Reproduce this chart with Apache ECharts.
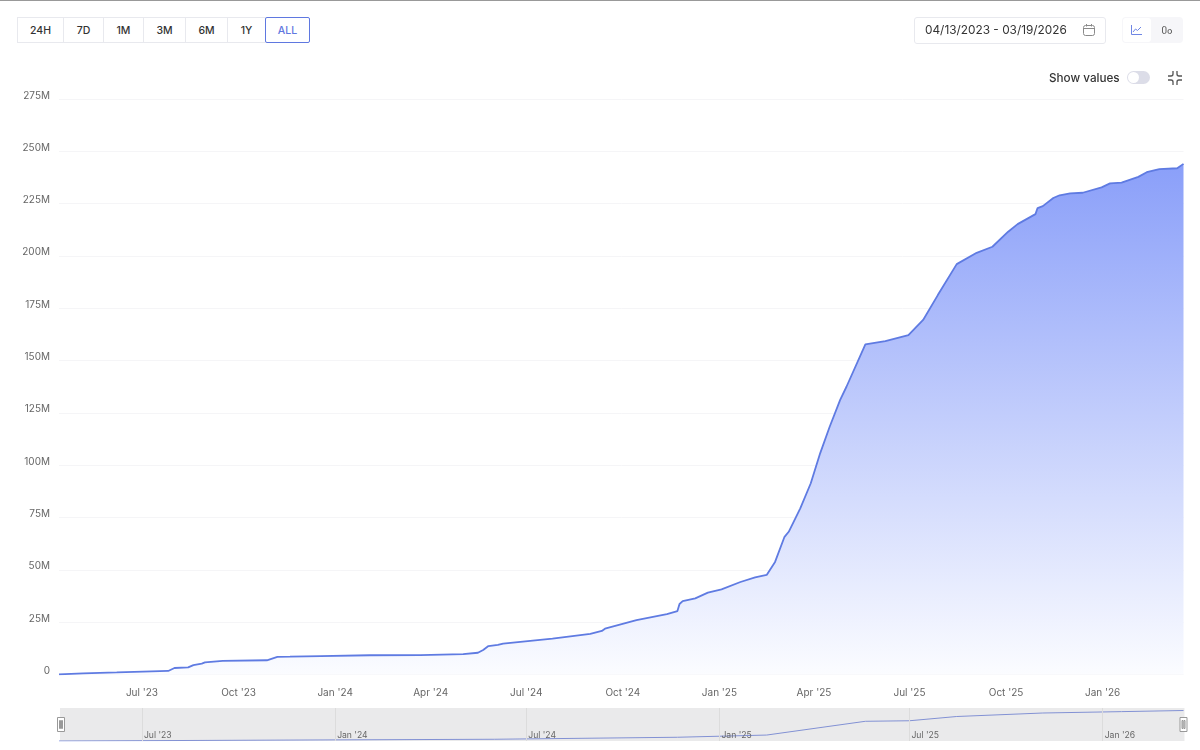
<!DOCTYPE html>
<html lang="en">
<head>
    <meta charset="UTF-8">
    <title>Cumulative chart</title>
    <script src="https://cdn.jsdelivr.net/npm/echarts@6/dist/echarts.min.js"></script>
    <style>
        body { margin: 0; background: #fff; font-family: Inter, sans-serif; color: #333; }
        #page { position: relative; width: 1200px; height: 750px; overflow: hidden; }
        #chart { position: absolute; left: 0; top: 0; width: 1200px; height: 750px; }
        .topline { position: absolute; left: 0; top: 0; width: 1200px; height: 1px; background: #999; }
        .range { position: absolute; left: 17px; top: 17px; height: 26px; display: flex; font-size: 10.5px; font-weight: 500; }
        .range div { box-sizing: border-box; height: 26px; line-height: 25px; text-align: center; border: 1px solid #e8e9ee; margin-left: -1px; background: #fff; }
        .range .on { color: #5f78e0; border-color: #5f78e0; border-radius: 2px; position: relative; }
        .dates { position: absolute; left: 914px; top: 17px; width: 192px; height: 27px; box-sizing: border-box; border: 1px solid #e8e9ee; border-radius: 3px; font-size: 11.85px; line-height: 25px; padding-left: 10px; }
        .dates svg { position: absolute; left: 168px; top: 6px; }
        .modes { position: absolute; left: 1122px; top: 17px; width: 61px; height: 26px; background: #f6f6f9; border-radius: 4px; }
        .modes i { position: absolute; left: 1px; top: 1px; width: 28px; height: 24px; background: #fff; border-radius: 3px; }
        .modes svg { position: absolute; }
        .show { position: absolute; left: 1049px; top: 71px; font-size: 11.7px; font-weight: 500; line-height: 15px; }
        .switch { position: absolute; left: 1127px; top: 71px; width: 23px; height: 13px; border-radius: 7px; background: #dcdde8; }
        .switch i { position: absolute; left: 1px; top: 1px; width: 11px; height: 11px; border-radius: 50%; background: #fff; }
        .shrink { position: absolute; left: 1168px; top: 71px; }
    </style>
</head>
<body>
<div id="page">
    <div id="chart"></div>
    <div class="topline"></div>
    <div class="range">
        <div style="width:47px;margin-left:0">24H</div>
        <div style="width:41px">7D</div>
        <div style="width:41px">1M</div>
        <div style="width:43px">3M</div>
        <div style="width:43px">6M</div>
        <div style="width:39px">1Y</div>
        <div class="on" style="width:45px">ALL</div>
    </div>
    <div class="dates">04/13/2023 - 03/19/2026
        <svg width="12" height="12" viewBox="0 0 12 12" fill="none" stroke="#8a8a8a"><rect x=".5" y="1.5" width="11" height="10" rx="2"/><path d="M.5 4.5h11M3.5 0v2.5M8.5 0v2.5"/></svg>
    </div>
    <div class="modes">
        <i></i>
        <svg style="left:9px;top:8px" width="11" height="10" viewBox="0 0 11 10" fill="none" stroke="#6f86e4"><path d="M.5 0v9.5H11M2 7l2.500-3 2 1.500L10 2"/></svg>
        <svg style="left:40px;top:9px" width="10" height="8" viewBox="0 0 10 8" fill="none" stroke="#666"><rect x=".5" y=".5" width="3.500" height="7" rx="1.500"/><rect x="6" y="3.500" width="3.500" height="4" rx="1.500"/></svg>
    </div>
    <div class="show">Show values</div>
    <div class="switch"><i></i></div>
    <svg class="shrink" width="14" height="14" viewBox="0 0 14 14" fill="none" stroke="#555" stroke-width="1.300"><path d="M5 0v3a2 2 0 0 1-2 2H0M9 0v3a2 2 0 0 0 2 2h3M5 14v-3a2 2 0 0 0-2-2H0M9 14v-3a2 2 0 0 1 2-2h3"/></svg>
</div>
<script>
    // cumulative total, millions
    const dates = ['2023-04-13', '2023-05-06', '2023-06-07', '2023-07-02', '2023-07-26', '2023-08-01', '2023-08-14', '2023-08-19', '2023-08-27', '2023-08-30',
        '2023-09-16', '2023-10-28', '2023-11-07', '2023-11-19', '2023-12-18', '2024-02-03', '2024-03-22', '2024-05-02', '2024-05-16', '2024-05-21',
        '2024-05-26', '2024-06-04', '2024-06-09', '2024-07-26', '2024-08-31', '2024-09-11', '2024-09-14', '2024-10-14', '2024-11-12', '2024-11-22',
        '2024-11-24', '2024-11-27', '2024-12-09', '2024-12-21', '2025-01-03', '2025-01-21', '2025-02-04', '2025-02-15', '2025-02-23', '2025-03-04',
        '2025-03-08', '2025-03-19', '2025-03-29', '2025-04-07', '2025-04-16', '2025-04-26', '2025-05-02', '2025-05-20', '2025-06-08', '2025-06-30',
        '2025-07-14', '2025-07-28', '2025-08-15', '2025-09-03', '2025-09-18', '2025-10-03', '2025-10-12', '2025-10-29', '2025-10-31', '2025-11-05',
        '2025-11-15', '2025-11-21', '2025-12-01', '2025-12-13', '2025-12-31', '2026-01-08', '2026-01-19', '2026-02-04', '2026-02-12', '2026-02-24',
        '2026-03-13', '2026-03-19'];
    const values = [0.1, 0.5, 1.0, 1.4, 1.7, 3.1, 3.4, 4.5, 5.2, 5.8,
        6.5, 6.8, 8.4, 8.5, 8.8, 9.2, 9.3, 9.7, 10.4, 11.7,
        13.6, 14.2, 14.8, 17.1, 19.4, 20.8, 21.9, 26.0, 28.8, 30.3,
        33.7, 35.1, 36.4, 39.1, 40.7, 44.2, 46.4, 47.6, 53.8, 65.8,
        68.2, 79.4, 91.4, 105.8, 118.4, 131.2, 137.5, 157.7, 159.3, 162.2,
        169.4, 181.3, 196.1, 201.5, 204.4, 211.6, 215.2, 220.0, 222.9, 223.8,
        227.7, 229.0, 229.9, 230.2, 232.8, 234.7, 235.0, 237.8, 240.0, 241.5,
        241.9, 244.0];

    // the coarser line inside the slider
    const overviewDates = ['2023-04-13', '2024-01-01', '2024-06-01', '2024-11-22', '2025-02-15', '2025-05-20', '2025-07-01', '2025-08-15', '2025-11-05', '2026-01-19', '2026-03-19'];
    const overviewValues = [0, 9, 14, 30, 47.6, 157.7, 162, 196, 224, 235, 244];

    const tickDates = ['2023-07-01', '2023-10-01', '2024-01-01', '2024-04-01', '2024-07-01', '2024-10-01', '2025-01-01', '2025-04-01', '2025-07-01', '2025-10-01', '2026-01-01'];
    const tickLabels = ["Jul '23", "Oct '23", "Jan '24", "Apr '24", "Jul '24", "Oct '24", "Jan '25", "Apr '25", "Jul '25", "Oct '25", "Jan '26"];
    const sliderDates = ['2023-07-01', '2024-01-01', '2024-07-01', '2025-01-01', '2025-07-01', '2026-01-01'];

    const toTime = d => +echarts.time.parse(d);
    const labelOf = {};
    tickDates.forEach((d, i) => { labelOf[toTime(d)] = tickLabels[i]; });
    const tickValues = tickDates.map(toTime);
    const sliderValues = sliderDates.map(toTime);

    const myChart = echarts.init(document.getElementById('chart'));
    const font = 'Inter, sans-serif';

    // time axis breaks on customValues, so the x axes are plain value axes holding timestamps
    myChart.setOption({
        animation: false,
        textStyle: { fontFamily: font },
        grid: [
            { left: 59, right: 16.5, top: 99, height: 575.5 },
            { left: 59, right: 16.5, top: 708, height: 33 }
        ],
        xAxis: [
            {
                type: 'value',
                gridIndex: 0,
                min: toTime(dates[0]),
                max: toTime(dates[dates.length - 1]),
                axisLine: { show: false },
                axisTick: { show: false, customValues: tickValues },
                splitLine: { show: false },
                axisLabel: {
                    customValues: tickValues,
                    formatter: v => labelOf[v] || '',
                    color: '#666',
                    fontSize: 10,
                    margin: 13
                }
            },
            {
                type: 'value',
                gridIndex: 1,
                min: toTime(dates[0]),
                max: toTime(dates[dates.length - 1]),
                axisLine: { show: false },
                axisTick: { show: true, inside: true, length: 33, lineStyle: { color: '#dcdcdc' }, customValues: sliderValues },
                splitLine: { show: false },
                axisLabel: {
                    inside: true,
                    customValues: sliderValues,
                    formatter: v => labelOf[v] || '',
                    color: '#666',
                    fontSize: 8.6,
                    align: 'left',
                    padding: [0, 0, 0, 2],
                    margin: 1
                },
                z: 5
            }
        ],
        yAxis: [
            {
                type: 'value',
                gridIndex: 0,
                min: 0,
                max: 275,
                interval: 25,
                axisLine: { show: false },
                axisTick: { show: false },
                splitLine: { lineStyle: { color: '#f5f5f7', width: 1 } },
                axisLabel: {
                    formatter: v => (v === 0 ? '0' : v + 'M'),
                    color: '#666',
                    fontSize: 10,
                    margin: 9,
                    // labels sit a little above their grid line
                    verticalAlign: 'bottom',
                    lineHeight: 7
                }
            },
            { type: 'value', gridIndex: 1, min: 0, max: 264, show: false }
        ],
        dataZoom: [{
            type: 'slider',
            xAxisIndex: 0,
            start: 0,
            end: 100,
            left: 59,
            right: 16.5,
            top: 708,
            height: 33,
            showDetail: false,
            showDataShadow: false,
            brushSelect: false,
            backgroundColor: 'rgba(0,0,0,0)',
            borderColor: 'rgba(0,0,0,0)',
            fillerColor: 'rgba(150,150,155,0.2)',
            handleIcon: 'path://M0 0H7V14H0Z M2 3V11H3V3Z M4 3V11H5V3Z',
            handleSize: 14,
            handleStyle: { color: '#fff', borderColor: '#999', borderWidth: 1 },
            moveHandleSize: 0
        }],
        series: [
            {
                type: 'line',
                xAxisIndex: 0,
                yAxisIndex: 0,
                data: dates.map((d, i) => [toTime(d), values[i]]),
                showSymbol: false,
                lineStyle: { color: '#5f7be2', width: 1.8 },
                areaStyle: {
                    opacity: 1,
                    color: new echarts.graphic.LinearGradient(0, 0, 0, 1, [
                        { offset: 0, color: '#8a9ff9' },
                        { offset: 1, color: '#fbfcff' }
                    ])
                }
            },
            {
                type: 'line',
                xAxisIndex: 1,
                yAxisIndex: 1,
                data: overviewDates.map((d, i) => [toTime(d), overviewValues[i]]),
                showSymbol: false,
                lineStyle: { color: '#7d90e2', width: 1 }
            }
        ]
    });
</script>
</body>
</html>
